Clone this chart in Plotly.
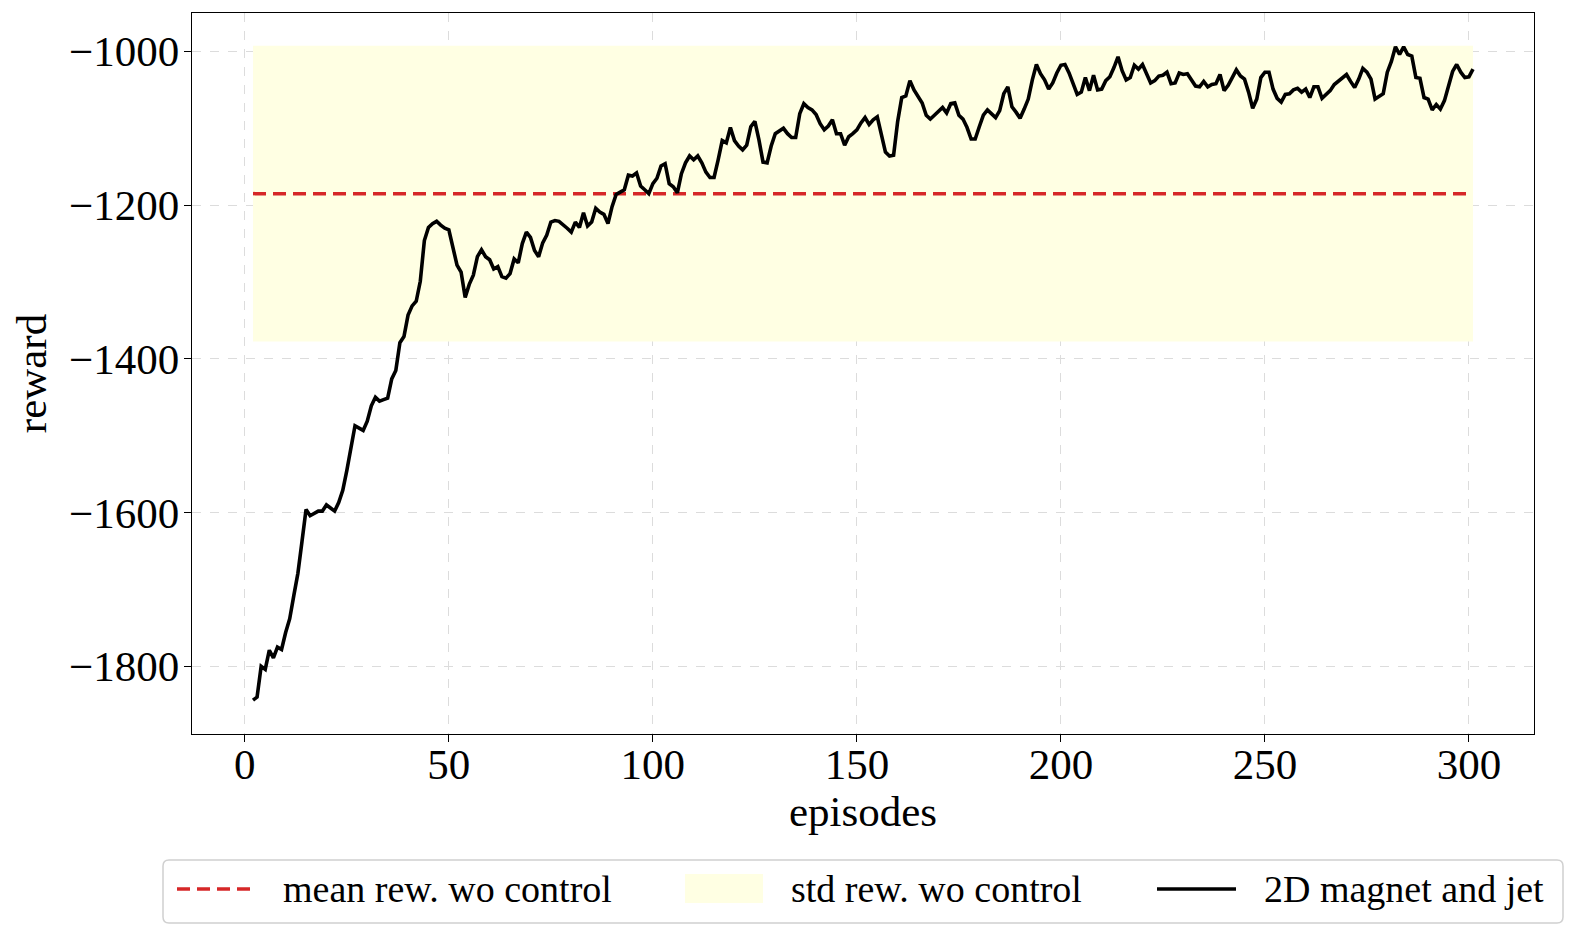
import plotly.graph_objects as go

# episodes 2..301 of the trained agent
episodes = list(range(2, 302))
reward = [
    -1844, -1840, -1800, -1804, -1779, -1789, -1775, -1778, -1756, -1738,
    -1708, -1679, -1638, -1596, -1604, -1601, -1598, -1598, -1590, -1594,
    -1598, -1587, -1571, -1545, -1516, -1487, -1490, -1493, -1481, -1461,
    -1450, -1455, -1453, -1451, -1426, -1415, -1379, -1371, -1343, -1331,
    -1325, -1299, -1246, -1229, -1224, -1221, -1226, -1230, -1232, -1254,
    -1278, -1287, -1320, -1303, -1291, -1267, -1258, -1267, -1271, -1283,
    -1280, -1293, -1295, -1289, -1270, -1275, -1250, -1235, -1242, -1259,
    -1267, -1249, -1239, -1222, -1220, -1221, -1225, -1230, -1235, -1222,
    -1229, -1210, -1227, -1222, -1204, -1209, -1212, -1224, -1202, -1186,
    -1183, -1180, -1161, -1162, -1158, -1175, -1180, -1185, -1172, -1165,
    -1149, -1146, -1172, -1176, -1184, -1159, -1145, -1136, -1141, -1136,
    -1145, -1157, -1164, -1164, -1141, -1116, -1119, -1099, -1116, -1123,
    -1128, -1122, -1098, -1091, -1115, -1144, -1145, -1123, -1107, -1104,
    -1100, -1107, -1112, -1112, -1081, -1068, -1073, -1076, -1082, -1094,
    -1102, -1097, -1089, -1107, -1107, -1122, -1111, -1107, -1102, -1093,
    -1086, -1095, -1089, -1085, -1107, -1131, -1136, -1135, -1091, -1060,
    -1058, -1038, -1050, -1058, -1067, -1083, -1088, -1083, -1078, -1073,
    -1080, -1068, -1067, -1083, -1088, -1099, -1114, -1114, -1098, -1083,
    -1076, -1081, -1086, -1077, -1055, -1046, -1072, -1079, -1087, -1075,
    -1062, -1037, -1017, -1029, -1037, -1049, -1041, -1028, -1018, -1017,
    -1028, -1042, -1056, -1053, -1034, -1051, -1031, -1050, -1049, -1038,
    -1033, -1021, -1007, -1025, -1037, -1034, -1018, -1023, -1017, -1029,
    -1041, -1038, -1032, -1031, -1027, -1042, -1041, -1028, -1030, -1029,
    -1037, -1045, -1046, -1039, -1046, -1043, -1042, -1030, -1051, -1044,
    -1034, -1024, -1032, -1036, -1053, -1074, -1062, -1034, -1027, -1027,
    -1049, -1061, -1066, -1056, -1055, -1050, -1048, -1053, -1049, -1060,
    -1046, -1046, -1061, -1056, -1051, -1043, -1039, -1035, -1030, -1039,
    -1047, -1036, -1022, -1027, -1036, -1062, -1058, -1055, -1027, -1013,
    -994, -1004, -994, -1004, -1006, -1034, -1035, -1060, -1062, -1076,
    -1069, -1075, -1064, -1046, -1026, -1017, -1027, -1034, -1033, -1023,
]

# reward without control
mean_wo = -1185
std_wo = 192.5

legend_names = ["mean rew. wo control", "std rew. wo control", "2D magnet and jet"]

font = "Liberation Serif, DejaVu Serif, serif"
red = "#d62728"
yellow = "#ffffe3"

fig = go.Figure()

x0, x1 = episodes[0], episodes[-1]
fig.add_trace(go.Scatter(
    x=[x0, x1, x1, x0, x0],
    y=[mean_wo - std_wo, mean_wo - std_wo, mean_wo + std_wo, mean_wo + std_wo, mean_wo - std_wo],
    mode="lines", fill="toself", fillcolor=yellow,
    line=dict(width=0, color=yellow),
    name=legend_names[1], hoverinfo="skip",
))
fig.add_trace(go.Scatter(
    x=[x0, x1], y=[mean_wo, mean_wo], mode="lines",
    line=dict(color=red, width=3.5, dash="13px,7px"),
    name=legend_names[0],
))
fig.add_trace(go.Scatter(
    x=episodes, y=reward, mode="lines",
    line=dict(color="black", width=3.6),
    name=legend_names[2],
))

axis_common = dict(
    showline=True, linecolor="black", linewidth=1.3, mirror=True,
    ticks="outside", ticklen=7, tickwidth=1.3, tickcolor="black",
    showgrid=True, gridcolor="#dcdcdc", griddash="dash", gridwidth=1,
    zeroline=False, automargin=False,
    tickfont=dict(family=font, size=43, color="black"),
)

fig.update_xaxes(
    range=[-12.95, 315.95], tickmode="array", tickvals=[0, 50, 100, 150, 200, 250, 300],
    ticklabelstandoff=-15,
    title=dict(text="episodes", font=dict(family=font, size=43, color="black"), standoff=8),
    **axis_common,
)
fig.update_yaxes(
    range=[-1888, -950], tickmode="array", tickvals=[-1800, -1600, -1400, -1200, -1000],
    ticklabelstandoff=-4,
    title=dict(text="reward", font=dict(family=font, size=43, color="black"), standoff=16),
    **axis_common,
)

# legend drawn by hand (matplotlib-like box below the axes)
px_w, px_h = 1342.0, 721.0   # plot area size in pixels


def px(x):
    return (x - 192) / px_w


def py(y):
    return (734 - y) / px_h


bx0, bx1, by0, by1 = px(163), px(1563), py(860), py(923)
rx, ry = 6 / px_w, 6 / px_h
box = (f"M {bx0 + rx},{by0} L {bx1 - rx},{by0} Q {bx1},{by0} {bx1},{by0 - ry} "
       f"L {bx1},{by1 + ry} Q {bx1},{by1} {bx1 - rx},{by1} "
       f"L {bx0 + rx},{by1} Q {bx0},{by1} {bx0},{by1 + ry} "
       f"L {bx0},{by0 - ry} Q {bx0},{by0} {bx0 + rx},{by0} Z")

shapes = [
    dict(type="path", xref="paper", yref="paper", path=box,
         line=dict(color="#d0d0d0", width=1.5), fillcolor="white"),
    dict(type="line", xref="paper", yref="paper", x0=px(177), x1=px(252), y0=py(889), y1=py(889),
         line=dict(color=red, width=3.5, dash="13px,7px")),
    dict(type="rect", xref="paper", yref="paper", x0=px(685), x1=px(763), y0=py(874), y1=py(903),
         line=dict(width=0), fillcolor=yellow),
    dict(type="line", xref="paper", yref="paper", x0=px(1157), x1=px(1236), y0=py(889), y1=py(889),
         line=dict(color="black", width=3.6)),
]
annotations = [
    dict(xref="paper", yref="paper", x=px(tx), y=py(889), text=name, showarrow=False,
         xanchor="left", yanchor="middle", font=dict(family=font, size=38, color="black"))
    for tx, name in zip([281, 789, 1262], legend_names)
]

# the page body has an 8px margin, so shift the figure back by that much
fig.update_layout(
    width=1570, height=930,
    margin=dict(l=184, r=44, t=5, b=204),
    plot_bgcolor="white", paper_bgcolor="white",
    font=dict(family=font, color="black"),
    showlegend=False,
    shapes=shapes, annotations=annotations,
)

fig.write_html("out.html")
